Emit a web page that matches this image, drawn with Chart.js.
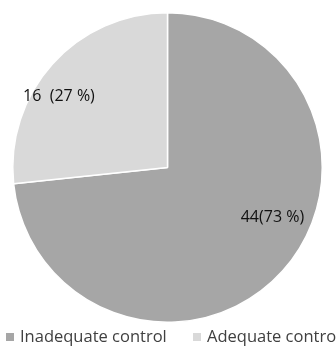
<!DOCTYPE html>
<html>
<head>
<meta charset="utf-8">
<script src="https://cdn.jsdelivr.net/npm/chart.js@4"></script>
<style>
  html, body { margin: 0; padding: 0; background: #fff; }
  #wrap { position: relative; width: 336px; height: 347px; overflow: hidden; }
</style>
</head>
<body>
<div id="wrap"><canvas id="chart" width="336" height="347"></canvas></div>
<script>
// chart data
const categories = ['Inadequate control', 'Adequate control'];
const counts = [44, 16];
const percents = [73, 27];
const sliceLabels = ['44(73 %)', '16  (27 %)'];
const colors = ['#a6a6a6', '#d9d9d9'];

// draws the value labels and the bottom legend
const extras = {
  id: 'extras',
  afterDatasetsDraw(chart) {
    const ctx = chart.ctx;
    const meta = chart.getDatasetMeta(0);
    ctx.save();
    ctx.font = '16px "Open Sans"';
    ctx.fillStyle = '#111';
    ctx.textBaseline = 'middle';
    ctx.textAlign = 'center';
    // label spot: fraction of radius, and angle shift (deg) from slice middle
    const spots = [[0.75, -16.7], [0.84, -8.6]];
    meta.data.forEach((arc, i) => {
      const mid = (arc.startAngle + arc.endAngle) / 2 + spots[i][1] * Math.PI / 180;
      const r = arc.outerRadius * spots[i][0];
      ctx.fillText(sliceLabels[i], arc.x + Math.cos(mid) * r, arc.y + Math.sin(mid) * r);
    });

    // legend
    ctx.font = '16.5px "Open Sans"';
    ctx.textAlign = 'left';
    const ly = 337;
    const lx = [6, 193];
    categories.forEach((c, i) => {
      ctx.fillStyle = colors[i];
      ctx.fillRect(lx[i], ly - 4, 8, 8);
      ctx.fillStyle = '#404040';
      ctx.fillText(c, lx[i] + 14, ly);
    });
    ctx.restore();
  }
};

new Chart(document.getElementById('chart').getContext('2d'), {
  type: 'pie',
  data: {
    labels: categories,
    datasets: [{ data: counts, backgroundColor: colors, borderColor: '#ffffff', borderWidth: 1.5 }]
  },
  options: {
    responsive: false,
    animation: false,
    layout: { padding: { left: 12, right: 13, top: 12, bottom: 24 } },
    plugins: { legend: { display: false }, tooltip: { enabled: false } }
  },
  plugins: [extras]
});
</script>
</body>
</html>
